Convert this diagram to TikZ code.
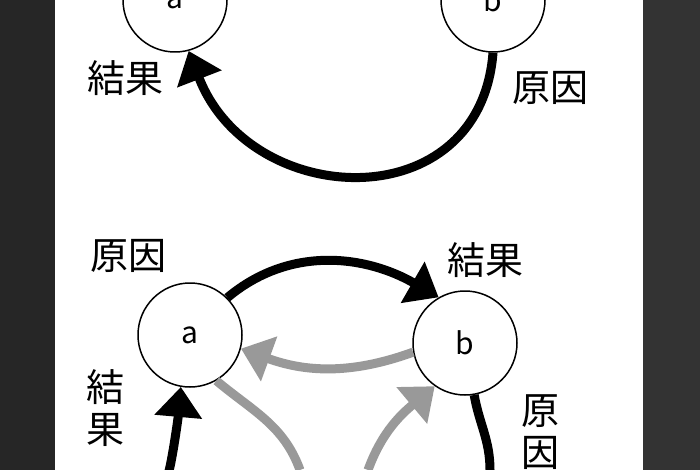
\documentclass[tikz,border=0pt]{standalone}
\usepackage{fontspec}
\setmainfont{Noto Sans CJK JP}
\usetikzlibrary{arrows.meta}
\tikzset{
  var/.style={draw, circle, line width=1.5pt, minimum size=104pt, inner sep=0pt, font=\fontsize{30}{30}\selectfont},
  lab/.style={font=\fontsize{38}{42}\selectfont, inner sep=0pt},
  blk/.style={line width=9pt, -{Triangle[length=30pt,width=46pt]}},
  gry/.style={blk, draw=gray!80},
}
\begin{document}
\begin{tikzpicture}[x=1pt,y=-1pt]
\useasboundingbox (0,0) rectangle (700,470);
\fill[black!85] (0,0) rectangle (55,470);
\fill[black!80] (643,0) rectangle (700,470);
% upper pair
\node[var] (a1) at (175,0) {a};
\node[var] (b1) at (493,0) {b};
\node[lab] (r1) at (125,78) {結果};
\node[lab] (c1) at (550,88) {原因};
\draw[blk] (b1.south) .. controls (480,220) and (250,210) .. (a1.-75);
% lower triangle
\node[var] (a2) at (190,335) {a};
\node[var] (b2) at (465,343) {b};
\node[lab] (c2) at (128,256) {原因};
\node[lab] (r2) at (485,260) {結果};
\node[lab, align=center] (r3) at (105,408) {結\\果};
\node[lab, align=center] (c3) at (540,432) {原\\因};
\coordinate (p1) at (165,470);
\coordinate (p2) at (300,470);
\coordinate (p3) at (368,470);
\coordinate (p4) at (490,470);
\draw[blk] (a2.45) to[out=40,in=150] (b2.120);
\draw[gry] (b2.190) to[out=200,in=-20] (a2.-15);
\draw[gry, -] (a2.-60) to[out=-40,in=110] (p2);
\draw[gry] (p3) to[out=70,in=220] (b2.-125);
\draw[blk] (p1) to[out=-88,in=-95] (a2.-100);
\draw[blk, -] (b2.-80) to[out=-80,in=90] (p4);
\end{tikzpicture}
\end{document}
